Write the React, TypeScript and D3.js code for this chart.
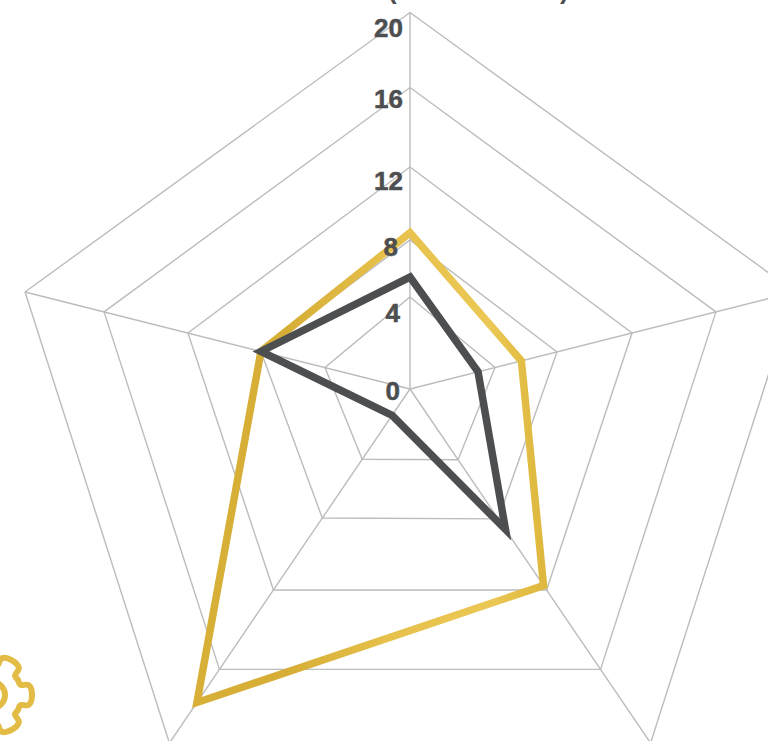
import React from 'react';
import * as d3 from 'd3';

const width = 768;
const height = 741;
const cx = 410;
const cy = 389;

// axes run clockwise from the top one
const axes = ['a', 'b', 'c', 'd', 'e'];
const ticks = [0, 4, 8, 12, 16, 20];

// series
const goldValues = [8.4, 5.7, 11.75, 17.8, 8];
const darkValues = [5.4, 3.2, 8.6, 1.5, 8];

// the reference web is not a regular pentagon, so every axis has its own angle and ring spacing
const axisAngles = [0, 75.85, 145.8, 214.2, 284.15];
const axisRadii = [
  [0, 92, 149, 222, 301.5, 376.5],
  [0, 87.7, 151.6, 229, 315.5, 397],
  [0, 85.5, 157, 243, 339, 428],
  [0, 85, 156, 243, 339, 428],
  [0, 87.7, 153.7, 229, 315.5, 397],
];

const tickLabelY = [399.5, 322, 256, 190, 108, 36.5];
const tickLabelX = [400, 400, 398, 403, 403, 403];

const scales = axes.map((_, i) => d3.scaleLinear().domain(ticks).range(axisRadii[i]));

const point = (axisIndex: number, value: number): [number, number] => {
  const a = (axisAngles[axisIndex] * Math.PI) / 180;
  const r = scales[axisIndex](value);
  return [cx + r * Math.sin(a), cy - r * Math.cos(a)];
};

const polygon = d3.line<[number, number]>().curve(d3.curveLinearClosed);

// gear outline, one tooth repeated around the circle
const toothShape: [number, number][] = [
  [-20, 30],
  [-15, 38],
  [0, 40],
  [15, 38],
  [20, 30],
  [30, 30],
];
const gearPoints: [number, number][] = d3.range(6).flatMap((t) =>
  toothShape.map(([deg, r]): [number, number] => [((t * 60 + 90 + deg) * Math.PI) / 180, r])
);
const gearPath = d3.lineRadial<[number, number]>().curve(d3.curveCatmullRomClosed.alpha(0.5))(gearPoints) as string;

const gold = '#e3bc45';
const dark = '#4d4e50';
const grid = '#bcbcbc';

export default function App() {
  return (
    <svg
      width={width}
      height={height}
      viewBox={`0 0 ${width} ${height}`}
      style={{ position: 'absolute', left: 0, top: 0, background: '#fff' }}
    >
      <defs>
        <linearGradient id="goldStroke" gradientUnits="userSpaceOnUse" x1="200" y1="0" x2="540" y2="0">
          <stop offset="0" stopColor="#d8b038" />
          <stop offset="0.25" stopColor="#d6ae36" />
          <stop offset="0.55" stopColor="#e6c04a" />
          <stop offset="0.85" stopColor="#ebc855" />
          <stop offset="1" stopColor="#dfb93f" />
        </linearGradient>
      </defs>

      {/* rings */}
      {ticks.slice(1).map((t) => (
        <path
          key={t}
          d={polygon(axes.map((_, i) => point(i, t))) as string}
          fill="none"
          stroke={grid}
          strokeWidth={1.4}
        />
      ))}

      {/* spokes */}
      {axes.map((a, i) => {
        const [x, y] = point(i, 20);
        return <line key={a} x1={cx} y1={cy} x2={x} y2={y} stroke={grid} strokeWidth={1.4} />;
      })}

      <path
        d={polygon(goldValues.map((v, i) => point(i, v))) as string}
        fill="none"
        stroke="url(#goldStroke)"
        strokeWidth={7.5}
        strokeLinejoin="miter"
        strokeMiterlimit={10}
      />
      <path
        d={polygon(darkValues.map((v, i) => point(i, v))) as string}
        fill="none"
        stroke={dark}
        strokeWidth={7.5}
        strokeLinejoin="miter"
        strokeMiterlimit={10}
      />

      {/* tick labels */}
      <g
        fontFamily="'Liberation Sans', Arial, sans-serif"
        fontWeight={700}
        fontSize={26}
        fill={dark}
        stroke={dark}
        strokeWidth={0.5}
        textAnchor="end"
      >
        {ticks.map((t, i) => (
          <text key={t} x={tickLabelX[i]} y={tickLabelY[i]}>
            {t}
          </text>
        ))}
      </g>

      {/* the title is cut off by the page top, only the bracket tails show */}
      <g fontFamily="'Liberation Sans', Arial, sans-serif" fontWeight={700} fontSize={26} fill={dark}>
        <text x={388} y={-1.5}>(</text>
        <text x={560} y={-1.5}>)</text>
      </g>

      {/* gear icon, cut off by the left edge */}
      <g transform="translate(-8,695)" fill="none" stroke={gold} strokeWidth={6} strokeLinejoin="round">
        <path d={gearPath} />
        <circle r={13} />
      </g>
    </svg>
  );
}
